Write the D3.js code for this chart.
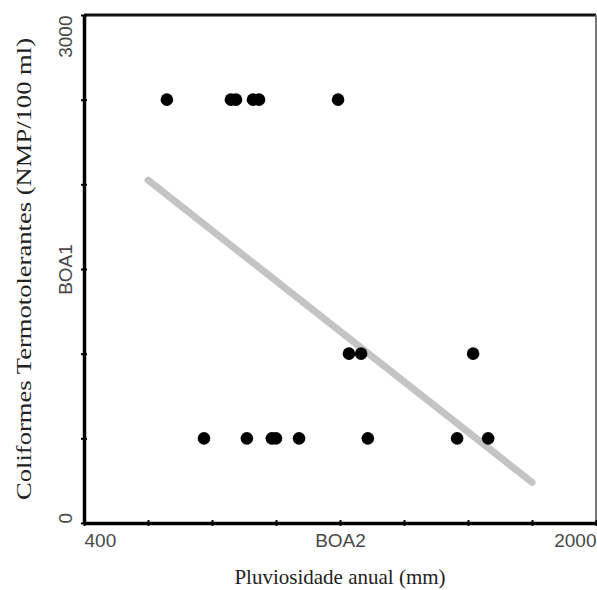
<!DOCTYPE html>
<html>
<head>
<meta charset="utf-8">
<script src="https://cdn.jsdelivr.net/npm/d3@7"></script>
<style>
  body { margin: 0; background: #fff; }
  svg { display: block; }
</style>
</head>
<body>
<svg id="chart" width="597" height="590"></svg>
<script>
// dados
const xTicks = [400, 600, 800, 1000, 1200, 1400, 1600, 1800, 2000]
const xTickLabels = { 400: '400', 1200: 'BOA2', 2000: '2000' }
const yTicks = [0, 500, 1000, 1500, 2000, 2500, 3000]
const yTickLabels = { 0: '0', 1500: 'BOA1', 3000: '3000' }

// pluviosidade (mm) e coliformes (NMP/100 ml)
const pluvio = [659, 859, 875, 928, 947, 1194, 1228, 1266, 1616, 775, 909, 987, 1000, 1072, 1287, 1566, 1663]
const colif = [2500, 2500, 2500, 2500, 2500, 2500, 1000, 1000, 1000, 500, 500, 500, 500, 500, 500, 500, 500]

// reta de tendência (extremos)
const trendX = [600, 1800]
const trendY = [2025, 240]

const margin = { top: 15, right: 1, bottom: 67, left: 84 }
const W = 597, H = 590
const w = W - margin.left - margin.right
const h = H - margin.top - margin.bottom

const svg = d3.select('#chart')
const g = svg.append('g').attr('transform', `translate(${margin.left},${margin.top})`)

const x = d3.scaleLinear().domain([400, 2000]).range([0, w])
const y = d3.scaleLinear().domain([0, 3000]).range([h, 0])

// moldura: topo escuro e lado direito cinza
g.append('line')
    .attr('x1', 0).attr('x2', w).attr('y1', 0).attr('y2', 0)
    .attr('stroke', '#111').attr('stroke-width', 3)
g.append('line')
    .attr('x1', w).attr('x2', w).attr('y1', 0).attr('y2', h)
    .attr('stroke', '#777').attr('stroke-width', 2)

// eixo x
const xAxis = g.append('g')
    .attr('transform', `translate(0,${h})`)
    .call(d3.axisBottom(x).tickValues(xTicks).tickSize(3).tickSizeOuter(0)
        .tickFormat((d) => xTickLabels[d] || ''))
xAxis.select('.domain').attr('stroke', '#000').attr('stroke-width', 3.5)
xAxis.selectAll('.tick line').attr('stroke', '#000').attr('stroke-width', 2).attr('y1', -3)
xAxis.selectAll('.tick text')
    .attr('y', 11)
    .attr('dy', '0.71em')
    .style('font-family', 'Liberation Sans, Arial, sans-serif')
    .style('font-size', '19px')
    .attr('fill', '#484848')
    .attr('text-anchor', (d) => (d == 400 ? 'start' : d == 2000 ? 'end' : 'middle'))

// eixo y
const yAxis = g.append('g')
    .call(d3.axisLeft(y).tickValues(yTicks).tickSize(3).tickSizeOuter(0)
        .tickFormat((d) => yTickLabels[d] || ''))
yAxis.select('.domain').attr('stroke', '#000').attr('stroke-width', 3.5)
yAxis.selectAll('.tick line').attr('stroke', '#000').attr('stroke-width', 2).attr('x1', 3)
yAxis.selectAll('.tick text')
    .attr('x', null).attr('dy', null)
    .attr('transform', 'translate(-12,0) rotate(-90)')
    .style('font-family', 'Liberation Sans, Arial, sans-serif')
    .style('font-size', '19px')
    .attr('fill', '#484848')
    .attr('text-anchor', (d) => (d == 0 ? 'start' : d == 3000 ? 'end' : 'middle'))

// reta de tendência
g.append('line')
    .attr('x1', x(trendX[0])).attr('y1', y(trendY[0]))
    .attr('x2', x(trendX[1])).attr('y2', y(trendY[1]))
    .attr('stroke', '#c4c4c4').attr('stroke-width', 7).attr('stroke-linecap', 'round')

// pontos
g.selectAll('circle.pt')
    .data(pluvio.map((v, i) => [v, colif[i]]))
    .join('circle')
    .attr('class', 'pt')
    .attr('cx', (d) => x(d[0]))
    .attr('cy', (d) => y(d[1]))
    .attr('r', 6.3)
    .attr('fill', '#000')

// títulos dos eixos
svg.append('text')
    .attr('x', margin.left + x(1200))
    .attr('y', 584)
    .attr('text-anchor', 'middle')
    .style('font-family', 'Liberation Serif, Times New Roman, serif')
    .style('font-size', '21px')
    .attr('fill', '#222')
    .text('Pluviosidade anual (mm)')

svg.append('text')
    .attr('transform', `translate(31,${margin.top + y(1500)}) rotate(-90)`)
    .attr('text-anchor', 'middle')
    .attr('textLength', 462)
    .attr('lengthAdjust', 'spacingAndGlyphs')
    .style('font-family', 'Liberation Serif, Times New Roman, serif')
    .style('font-size', '22px')
    .attr('fill', '#222')
    .text('Coliformes Termotolerantes (NMP/100 ml)')
</script>
</body>
</html>
